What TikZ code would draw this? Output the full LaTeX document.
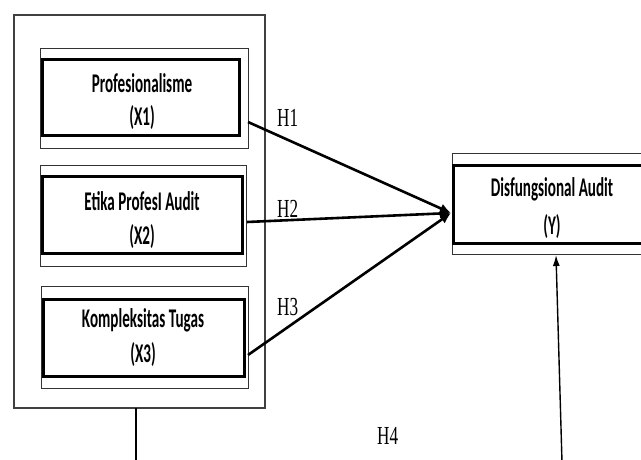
\documentclass[tikz,border=0pt]{standalone}
\usepackage{fontspec}
\newfontfamily\boxfont[FakeStretch=0.56]{Carlito}
\newfontfamily\hfont[FakeStretch=0.66]{Liberation Serif}
\usetikzlibrary{arrows.meta}
\begin{document}
\begin{tikzpicture}[x=1pt,y=-1pt,
  thinbox/.style={draw=black!80, line width=1pt},
  thickbox/.style={draw=black, line width=3pt},
  boxtext/.style={font=\boxfont\bfseries\fontsize{27}{30}\selectfont, align=center, inner sep=0pt},
  hlabel/.style={font=\hfont\fontsize{26}{28}\selectfont, inner sep=0pt, anchor=base west},
  hyp/.style={line width=2.6pt, -{Latex[length=11pt,width=10pt]}},
  hyp4/.style={line width=1.4pt, -{Latex[length=11pt,width=7pt]}}]
\useasboundingbox (0,0) rectangle (641,460);
% outer group box
\draw[draw=black!75, line width=1.2pt] (14,15) rectangle (265,408);
\coordinate (gbot) at (136,408);
\coordinate (gend) at (136,462);
% X1
\draw[thinbox] (40,49) rectangle (248,149);
\draw[thickbox] (42,60) rectangle (239,136);
\node[boxtext] (t1) at (142,83) {Profesionalisme};
\node[boxtext] (t1b) at (142,118) {(X1)};
\coordinate (x1) at (248,122);
% X2
\draw[thinbox] (40,166) rectangle (246,266);
\draw[thickbox] (42,177) rectangle (242,253);
\node[boxtext] (t2) at (142,201) {Etika ProfesI Audit};
\node[boxtext] (t2b) at (142,237) {(X2)};
\coordinate (x2) at (247,222);
% X3
\draw[thinbox] (41,286) rectangle (248,388);
\draw[thickbox] (43,299) rectangle (244,376);
\node[boxtext] (t3) at (143,320) {Kompleksitas Tugas};
\node[boxtext] (t3b) at (143,355) {(X3)};
\coordinate (x3) at (248,355);
% Y
\draw[thinbox] (452,154) rectangle (642,254);
\draw[thickbox] (453,166) rectangle (643,243);
\node[boxtext] (ty) at (552,189) {Disfungsional Audit};
\node[boxtext] (tyb) at (552,227) {(Y)};
\coordinate (ytip) at (451,213);
\coordinate (ybot) at (556,255);
\coordinate (h4start) at (562,462);
% arrows
\draw[hyp] (x1) -- (ytip);
\draw[hyp] (x2) -- (ytip);
\draw[hyp] (x3) -- (ytip);
\draw[hyp4] (h4start) -- (ybot);
\draw[line width=1.4pt] (gbot) -- (gend);
% labels
\node[hlabel] (h1) at (277,127) {H1};
\node[hlabel] (h2) at (277,218) {H2};
\node[hlabel] (h3) at (277,315) {H3};
\node[hlabel] (h4) at (377,444) {H4};
\end{tikzpicture}
\end{document}
